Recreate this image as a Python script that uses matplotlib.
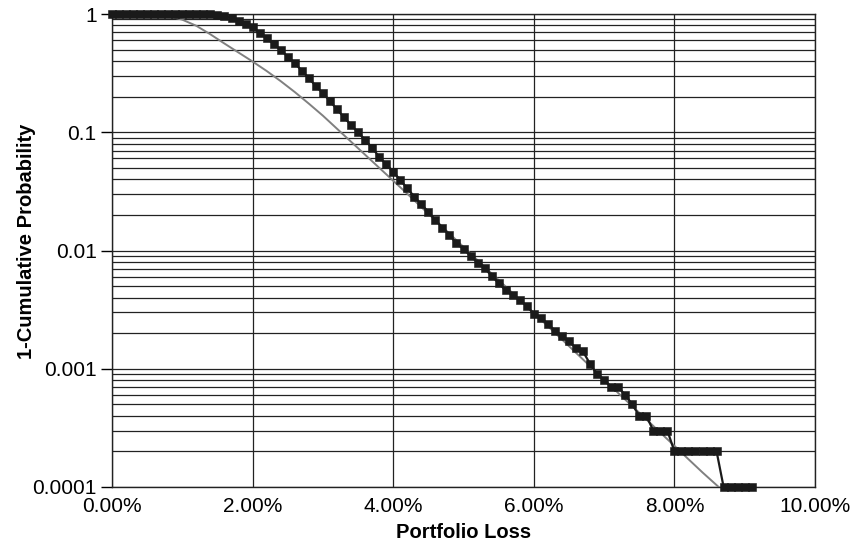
import numpy as np
import matplotlib.pyplot as plt
from matplotlib.ticker import FixedLocator, FuncFormatter, LogLocator, NullFormatter

plt.rcParams['font.family'] = ['Liberation Sans', 'DejaVu Sans']

# simulated tail: 1 - cumulative probability at each 0.1% of portfolio loss
loss = np.round(np.arange(0, 9.15, 0.1), 1)
tail_sim = [
    1.0, 1.0, 1.0, 1.0, 1.0, 1.0, 1.0, 1.0, 1.0, 1.0,
    1.0, 1.0, 1.0, 1.0, 1.0, 0.99, 0.96, 0.92, 0.87, 0.82,
    0.77, 0.695, 0.622, 0.557, 0.497, 0.435, 0.383, 0.332, 0.286, 0.246,
    0.213, 0.184, 0.156, 0.134, 0.115, 0.100, 0.086, 0.074, 0.062, 0.0536,
    0.0465, 0.0394, 0.0336, 0.0285, 0.0246, 0.0212, 0.0181, 0.0156, 0.0135, 0.0115,
    0.0103, 0.0090, 0.0079, 0.0071, 0.0061, 0.0053, 0.0046, 0.0042, 0.0038, 0.0034,
    0.0029, 0.0027, 0.0024, 0.0021, 0.0019, 0.0017, 0.0015, 0.0014, 0.0011, 0.0009,
    0.0008, 0.0007, 0.0007, 0.0006, 0.0005, 0.0004, 0.0004, 0.0003, 0.0003, 0.0003,
    0.0002, 0.0002, 0.0002, 0.0002, 0.0002, 0.0002, 0.0002, 0.0001, 0.0001, 0.0001,
    0.0001, 0.0001,
]

# fitted distribution tail (log10 of 1 - cumulative probability)
fit_loss = [0.0, 0.4, 0.6, 0.8, 1.0, 1.2, 1.4, 1.6, 1.8, 2.0, 2.2, 2.4, 2.6,
            2.8, 3.0, 3.2, 3.4, 3.6, 3.8, 4.0, 4.2, 4.4, 4.6, 4.8, 5.0, 5.2,
            5.4, 5.6, 5.8, 6.0, 6.2, 6.4, 6.6, 6.8, 7.0, 7.2, 7.4, 7.6, 7.8,
            8.0, 8.2, 8.4, 8.63]
fit_log = [0.0, -0.001, -0.004, -0.018, -0.048, -0.100, -0.172, -0.250,
           -0.326, -0.402, -0.482, -0.568, -0.660, -0.758, -0.860, -0.970,
           -1.080, -1.190, -1.300, -1.410, -1.520, -1.633, -1.745, -1.857,
           -1.970, -2.082, -2.195, -2.305, -2.418, -2.528, -2.640, -2.752,
           -2.865, -2.978, -3.090, -3.205, -3.316, -3.428, -3.540, -3.652,
           -3.765, -3.877, -4.0]
fit_tail = 10.0 ** np.array(fit_log)

y_ticks = [1, 0.1, 0.01, 0.001, 0.0001]
y_labels = ['1', '0.1', '0.01', '0.001', '0.0001']
x_ticks = [0, 2, 4, 6, 8, 10]

fig = plt.figure(figsize=(8.55, 5.47), dpi=100)
ax = fig.add_axes([112 / 855, 60 / 547, 703 / 855, 473 / 547])

ax.set_yscale('log')
ax.set_xlim(0, 10)
ax.set_ylim(1e-4, 1)

ax.plot(fit_loss, fit_tail, color='#808080', lw=1.4, zorder=3)
ax.plot(loss, tail_sim, color='#1a1a1a', lw=1.6, marker='s', markersize=5.6,
        markeredgewidth=0.4, clip_on=False, zorder=4)

ax.yaxis.set_major_locator(FixedLocator(y_ticks))
ax.yaxis.set_major_formatter(FuncFormatter(lambda v, p: y_labels[int(round(-np.log10(v)))]))
ax.yaxis.set_minor_locator(LogLocator(base=10, subs=np.arange(2, 10)))
ax.yaxis.set_minor_formatter(NullFormatter())
ax.xaxis.set_major_locator(FixedLocator(x_ticks))
ax.xaxis.set_major_formatter(FuncFormatter(lambda v, p: f'{v:.2f}%'))

ax.grid(True, which='both', axis='y', color='#222222', lw=0.9)
ax.grid(True, which='major', axis='x', color='#222222', lw=0.9)
ax.set_axisbelow(True)

ax.tick_params(axis='y', which='major', direction='out', length=8, width=1,
               pad=3, labelsize=15)
ax.tick_params(axis='y', which='minor', length=0)
ax.tick_params(axis='x', which='major', length=0, pad=7, labelsize=15)

for s in ax.spines.values():
    s.set_color('#222222')
    s.set_linewidth(1)

ax.set_xlabel('Portfolio Loss', fontsize=14.5, fontweight='bold')
ax.set_ylabel('1-Cumulative Probability', fontsize=14.5, fontweight='bold')
ax.xaxis.set_label_coords(0.5, -0.077)
ax.yaxis.set_label_coords(-0.108, 0.52)

fig.savefig('out.png', dpi=100)
